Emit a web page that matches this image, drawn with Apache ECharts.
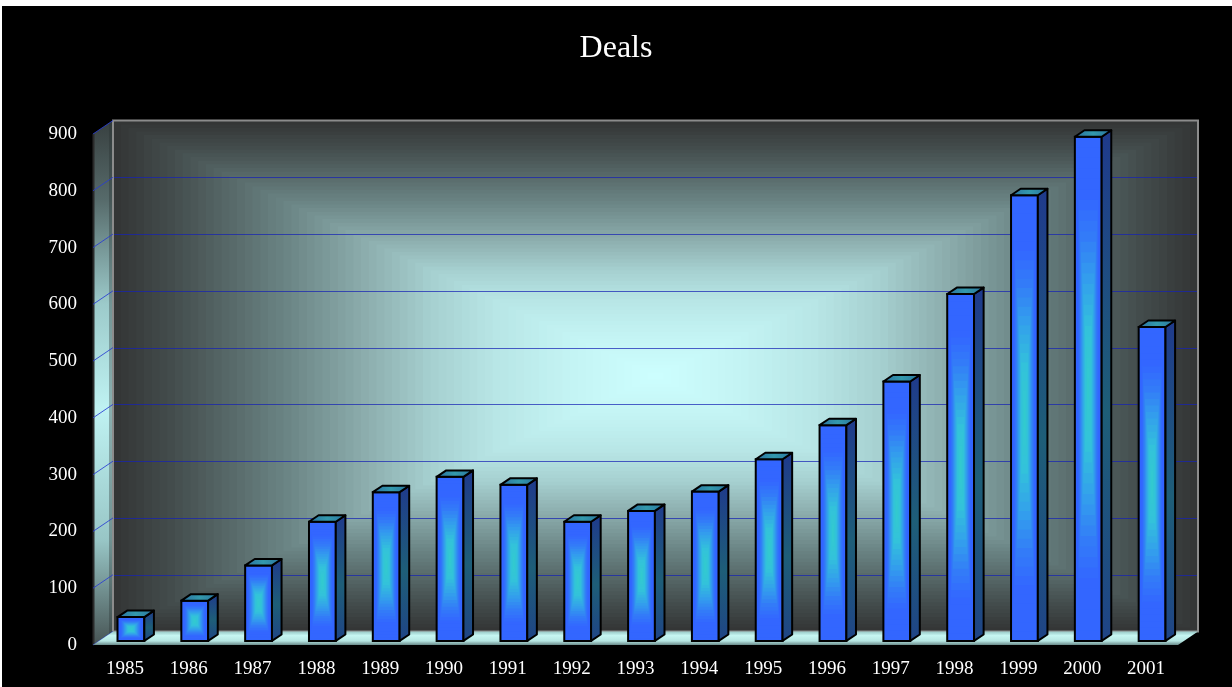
<!DOCTYPE html>
<html>
<head>
<meta charset="utf-8">
<title>Deals</title>
<script src="https://cdn.jsdelivr.net/npm/echarts@6/dist/echarts.min.js"></script>
<style>
  html, body { margin: 0; padding: 0; background: #ffffff; }
  #chart { width: 1232px; height: 687px; }
</style>
</head>
<body>
<div id="chart"></div>
<script>
// ---- data ----
const years = ['1985','1986','1987','1988','1989','1990','1991','1992','1993',
               '1994','1995','1996','1997','1998','1999','2000','2001'];
const deals = [42, 71, 133, 210, 262, 289, 275, 210, 229, 263, 320, 380, 457, 611, 785, 888, 553];
const yTicks = [0, 100, 200, 300, 400, 500, 600, 700, 800, 900];

// ---- 3D look: oblique depth of the plot box, bar placement in depth ----
const DX = 20, DY = -13.5;     // offset from front plane to back wall
const F0 = 0.3;                // bar front face depth fraction
const BD = 0.48;               // bar depth fraction

function hex(c) { return [parseInt(c.slice(1,3),16), parseInt(c.slice(3,5),16), parseInt(c.slice(5,7),16)]; }
function ramp(stops, t) {
  for (let i = 1; i < stops.length; i++) {
    if (t <= stops[i][0]) {
      const a = stops[i-1], b = stops[i];
      const k = (t - a[0]) / (b[0] - a[0]);
      const ca = hex(a[1]), cb = hex(b[1]);
      return 'rgb(' + ca.map((v, j) => Math.round(v + (cb[j] - v) * k)).join(',') + ')';
    }
  }
  return stops[stops.length - 1][1];
}
const wallStops = [[0,'#cdffff'],[0.15,'#c5f5f5'],[0.3,'#b8e6e6'],[0.42,'#a6d0d0'],[0.56,'#88a8a8'],
                   [0.69,'#6a8484'],[0.81,'#546464'],[0.9,'#434c4c'],[1,'#343636']];
const barStops = [[0,'#33cccc'],[0.25,'#33c2da'],[0.45,'#339fec'],[0.62,'#337cf8'],[0.78,'#3366ff'],[1,'#3366ff']];

// walls: back wall, left wall, floor and grid lines
function renderWalls(params, api) {
  const cs = params.coordSys;
  const children = [];
  const bx = cs.x + DX, by = cs.y + DY, W = cs.width, H = cs.height;
  const cx = bx + W / 2, cy = by + H / 2;
  const N = 70;
  for (let i = N; i >= 1; i--) {
    const t = i / N;
    children.push({ type: 'rect', shape: { x: cx - t * W / 2, y: cy - t * H / 2, width: t * W, height: t * H },
      style: { fill: ramp(wallStops, t) }, silent: true });
  }
  // back wall grid lines (1px bands)
  yTicks.forEach(v => {
    if (v === 0 || v === yTicks[yTicks.length - 1]) return;
    const y = Math.round(api.coord([0, v])[1] + DY);
    children.push({ type: 'rect', shape: { x: bx, y: y, width: W, height: 1 },
      style: { fill: 'rgba(22,34,180,0.72)' }, silent: true });
  });
  // back wall border
  children.push({ type: 'rect', shape: { x: bx, y: by, width: W, height: H },
    style: { fill: null, stroke: '#8c8c8c', lineWidth: 2 }, silent: true });

  // left wall
  const y0 = api.coord([0, 0])[1], yTop = cs.y;
  children.push({ type: 'polygon', shape: { points: [[cs.x, yTop], [cs.x + DX, yTop + DY], [cs.x + DX, y0 + DY], [cs.x, y0]] },
    style: { fill: new echarts.graphic.LinearGradient(0, 0, 0, 1, [
      { offset: 0, color: '#384040' }, { offset: 0.15, color: '#566a6a' }, { offset: 0.35, color: '#9ccaca' },
      { offset: 0.55, color: '#bff2f2' }, { offset: 0.8, color: '#98c6c6' }, { offset: 1, color: '#475454' }]) },
    silent: true });
  children.push({ type: 'polygon', shape: { points: [[cs.x + DX - 4, yTop + DY + 2.7], [cs.x + DX, yTop + DY], [cs.x + DX, y0 + DY], [cs.x + DX - 4, y0 + DY + 2.7]] },
    style: { fill: 'rgba(40,50,50,0.35)' }, silent: true });
  children.push({ type: 'line', shape: { x1: cs.x + 0.5, y1: yTop, x2: cs.x + 0.5, y2: y0 },
    style: { stroke: '#2a2a2a', lineWidth: 2 }, silent: true });
  children.push({ type: 'line', shape: { x1: cs.x + DX, y1: yTop + DY, x2: cs.x + DX, y2: y0 + DY },
    style: { stroke: '#8c8c8c', lineWidth: 2 }, silent: true });
  yTicks.forEach(v => {
    const y = api.coord([0, v])[1];
    children.push({ type: 'line', shape: { x1: cs.x, y1: y, x2: cs.x + DX, y2: y + DY },
      style: { stroke: 'rgba(40,60,210,0.85)', lineWidth: 1 }, silent: true });
  });

  // floor
  children.push({ type: 'polygon', shape: { points: [[cs.x, y0], [cs.x + DX, y0 + DY], [cs.x + W + DX, y0 + DY], [cs.x + W, y0]] },
    style: { fill: new echarts.graphic.LinearGradient(0, 0, 0, 1, [
      { offset: 0, color: '#98c8c6' }, { offset: 0.3, color: '#c6f6f2' }, { offset: 0.7, color: '#b6e6e2' },
      { offset: 1, color: '#6a8a8a' }]) }, silent: true });
  return { type: 'group', children };
}

// 3D bars: shaded front face, side face and top face
function renderBar(params, api) {
  const idx = api.value(0), v = api.value(1);
  const base = api.coord([idx, 0]), top = api.coord([idx, v]);
  const bw = api.size([1, 0])[0] * 0.42;
  const ox = DX * F0, oy = DY * F0;
  const xl = base[0] - bw / 2 + ox, xr = xl + bw;
  const yb = base[1] + oy, yt = top[1] + oy;
  const dx = DX * BD, dy = DY * BD;
  const h = yb - yt, mx = (xl + xr) / 2, my = (yt + yb) / 2;
  const children = [];
  const N = 24;
  for (let i = N; i >= 1; i--) {
    const t = i / N;
    children.push({ type: 'rect', shape: { x: mx - t * bw / 2, y: my - t * h / 2, width: t * bw, height: t * h },
      style: { fill: ramp(barStops, t) } });
  }
  children.push({ type: 'rect', shape: { x: xl, y: yt, width: bw, height: h },
    style: { fill: null, stroke: '#000', lineWidth: 2 } });
  children.push({ type: 'polygon', shape: { points: [[xr, yt], [xr + dx, yt + dy], [xr + dx, yb + dy], [xr, yb]] },
    style: { fill: new echarts.graphic.LinearGradient(0, 0, 0, 1, [
      { offset: 0, color: '#1f3a8c' }, { offset: 0.55, color: '#1e5e78' }, { offset: 1, color: '#1f4486' }]),
      stroke: '#000', lineWidth: 2, lineJoin: 'round' } });
  children.push({ type: 'polygon', shape: { points: [[xl, yt], [xl + dx, yt + dy], [xr + dx, yt + dy], [xr, yt]] },
    style: { fill: new echarts.graphic.LinearGradient(0, 0, 1, 0, [
      { offset: 0, color: '#2a6ea0' }, { offset: 0.5, color: '#3399ac' }, { offset: 1, color: '#2a74a0' }]),
      stroke: '#000', lineWidth: 2, lineJoin: 'round' } });
  return { type: 'group', children };
}

const chart = echarts.init(document.getElementById('chart'), null, { renderer: 'canvas' });
chart.setOption({
  backgroundColor: 'transparent',
  animation: false,
  graphic: [{ type: 'rect', left: 2, top: 6, z: -10, silent: true,
    shape: { width: 1230, height: 681 }, style: { fill: '#000' } }],
  title: {
    text: 'Deals', left: 'center', top: 33, padding: 0,
    textStyle: { color: '#ffffff', fontFamily: 'Liberation Serif', fontSize: 32, fontWeight: 'normal' }
  },
  grid: { left: 93, top: 134, width: 1085, height: 511, containLabel: false },
  xAxis: {
    type: 'category', data: years,
    axisLine: { show: false }, axisTick: { show: false }, splitLine: { show: false },
    axisLabel: { color: '#ffffff', fontFamily: 'Liberation Serif', fontSize: 19, margin: 15, interval: 0 }
  },
  yAxis: {
    type: 'value', min: 0, max: 900, interval: 100,
    axisLine: { show: false }, axisTick: { show: false }, splitLine: { show: false },
    axisLabel: { color: '#ffffff', fontFamily: 'Liberation Serif', fontSize: 19, margin: 16 }
  },
  series: [
    { type: 'custom', name: 'walls', z: 1, clip: false, silent: true,
      renderItem: renderWalls, data: [[0, 0]] },
    { type: 'custom', name: 'Deals', z: 2, clip: false,
      renderItem: renderBar, encode: { x: 0, y: 1 },
      data: deals.map((v, i) => [i, v]) }
  ]
});
</script>
</body>
</html>
